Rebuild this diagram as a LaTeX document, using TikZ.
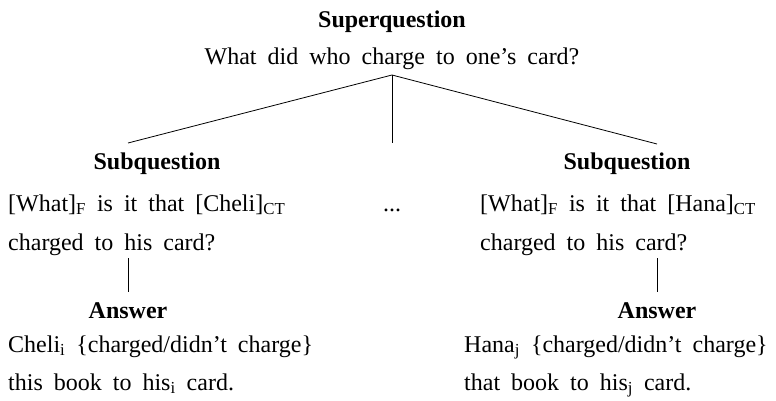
\documentclass[tikz,border=0pt]{standalone}
\usepackage{fontspec}
\setmainfont{Liberation Serif}
\newcommand{\sbs}[1]{\textsubscript{#1}}
\newcommand{\wsp}{\spaceskip=11pt plus 1pt minus 1pt\relax}
\begin{document}
\begin{tikzpicture}[x=1pt,y=-1pt,
  txt/.style={inner sep=0pt, font={\fontsize{24}{28}\selectfont\wsp}},
  ttl/.style={inner sep=0pt, font={\fontsize{24}{28}\selectfont\bfseries}},
  link/.style={line width=0.8pt}]
\path[use as bounding box] (0,0) rectangle (776,401);
% top
\node[ttl, anchor=base] (sq) at (392,28) {Superquestion};
\node[txt, anchor=base] (sqt) at (392,65) {What did who charge to one’s card?};
\coordinate (apex) at (392,75);
\coordinate (lend) at (128,143);
\coordinate (mend) at (392,143);
\coordinate (rend) at (657,144);
\draw[link] (apex) -- (lend);
\draw[link] (apex) -- (mend);
\draw[link] (apex) -- (rend);
% left
\node[ttl, anchor=base] (lsub) at (157,169) {Subquestion};
\node[txt, anchor=base west] (lq1) at (8,211) {[What]\sbs{F} is it that [Cheli]\sbs{CT}};
\node[txt, anchor=base west] (lq2) at (8,250) {charged to his card?};
\coordinate (lt) at (128,258);
\coordinate (lb) at (128,292);
\draw[link] (lt) -- (lb);
\node[ttl, anchor=base] (lans) at (128,318) {Answer};
\node[txt, anchor=base west] (la1) at (8,352) {Cheli\sbs{i} \{charged/didn’t charge\}};
\node[txt, anchor=base west] (la2) at (8,390) {this book to his\sbs{i} card.};
% middle
\node[txt, anchor=base] (dots) at (392,211) {...};
% right
\node[ttl, anchor=base] (rsub) at (627,169) {Subquestion};
\node[txt, anchor=base west] (rq1) at (480,211) {[What]\sbs{F} is it that [Hana]\sbs{CT}};
\node[txt, anchor=base west] (rq2) at (480,250) {charged to his card?};
\coordinate (rt) at (657,258);
\coordinate (rb) at (657,292);
\draw[link] (rt) -- (rb);
\node[ttl, anchor=base] (rans) at (657,318) {Answer};
\node[txt, anchor=base west] (ra1) at (464,352) {Hana\sbs{j} \{charged/didn’t charge\}};
\node[txt, anchor=base west] (ra2) at (464,390) {that book to his\sbs{j} card.};
\end{tikzpicture}
\end{document}
